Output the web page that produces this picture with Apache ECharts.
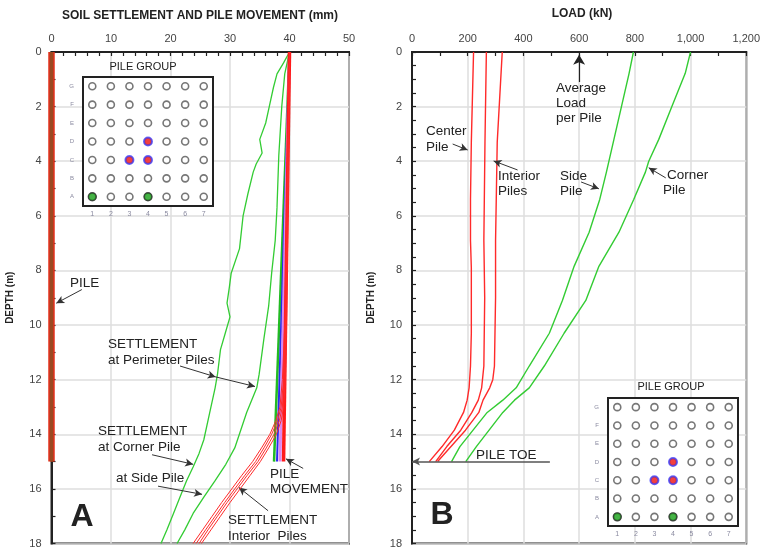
<!DOCTYPE html>
<html>
<head>
<meta charset="utf-8">
<script src="https://cdn.jsdelivr.net/npm/echarts@6/dist/echarts.min.js"></script>
<style>
  html, body { margin: 0; padding: 0; background: #fff; }
  #chart { width: 763px; height: 549px; }
</style>
</head>
<body>
<div id="chart"></div>
<script>
// ---- panel A : soil settlement / pile movement (mm) vs depth (m)
const pileDepth = [0, 15];
const pileX = [0, 0];

const moveDepth = [0, 15];
const moveRed = [40, 39.0];
const moveViolet = [40, 38.4];
const moveBlue = [40, 37.9];
const moveGreen = [40, 37.4];

const cornerDepth = [0, 0.4, 0.8, 1.3, 2.0, 2.6, 3.2, 3.7, 4.1, 4.4, 5.2, 6.0, 7.2, 8.1, 8.6, 9.2, 9.7, 10.3, 10.9, 11.8, 12.3, 13.2, 14.2, 14.7, 15.2, 15.7, 16.3, 16.9, 17.5, 18];
const cornerSettle = [40, 39.0, 37.9, 37.3, 36.6, 36.0, 35.0, 35.4, 34.4, 33.9, 33.0, 32.2, 31.6, 30.2, 29.9, 29.5, 30.0, 29.2, 28.4, 27.9, 27.5, 26.6, 25.6, 24.8, 23.8, 22.7, 21.6, 20.5, 19.4, 18.4];

const sideDepth = [0, 0.8, 2.0, 3.8, 5.7, 6.9, 8.1, 9.3, 10.5, 11.8, 12.3, 13.2, 14.5, 15.1, 15.7, 16.3, 16.9, 17.5, 18];
const sideSettle = [40, 39.2, 38.7, 38.2, 37.9, 37.6, 37.0, 36.5, 35.7, 34.9, 34.5, 32.8, 30.8, 29.3, 27.5, 25.6, 23.8, 22.4, 21.1];

const interiorDepth = [0, 5, 10, 12, 13, 13.5, 14, 14.5, 15, 15.5, 16, 16.5, 17, 17.5, 18];
const interior1 = [40, 39.6, 39.2, 38.8, 38.4, 37.7, 36.7, 35.3, 33.8, 32.0, 30.3, 28.6, 27.0, 25.4, 23.8];
const interior2 = [40, 39.7, 39.3, 39.0, 38.6, 38.0, 37.0, 35.7, 34.3, 32.5, 30.8, 29.1, 27.5, 25.9, 24.3];
const interior3 = [40, 39.7, 39.4, 39.1, 38.8, 38.3, 37.4, 36.1, 34.7, 32.9, 31.2, 29.5, 27.9, 26.3, 24.8];
const interior4 = [40, 39.8, 39.5, 39.3, 39.0, 38.6, 37.8, 36.5, 35.1, 33.4, 31.7, 30.0, 28.4, 26.8, 25.2];

// ---- panel B : load (kN) vs depth (m)
const centerDepth = [0, 3.3, 5.4, 6.9, 7.9, 10.3, 11.5, 12.3, 12.75, 13.2, 13.85, 14.45, 15];
const centerLoad = [221, 213, 210, 210, 213, 213, 210, 205, 198, 185, 152, 108, 62];
const interiorADepth = [0, 3.3, 6.9, 9, 11.5, 12.3, 12.75, 13.2, 13.85, 14.45, 15];
const interiorALoad = [267, 262, 258, 261, 258, 250, 238, 215, 175, 125, 85];
const interiorBDepth = [0, 3.3, 6.9, 9, 11.5, 12.0, 12.3, 12.75, 13.2, 13.85, 14.45, 15];
const interiorBLoad = [324, 306, 300, 300, 296, 290, 279, 255, 240, 192, 140, 92];
const sideLoadDepth = [0, 0.8, 2, 3.2, 4.4, 5.4, 6.6, 7.85, 9.1, 10.3, 11.5, 12.3, 12.75, 13.2, 14.45, 15];
const sideLoad = [795, 779, 752, 725, 698, 674, 636, 582, 540, 493, 421, 374, 326, 270, 172, 142];
const cornerLoadDepth = [0, 0.78, 2, 3.2, 4.0, 4.4, 5.4, 6.6, 7.85, 9.1, 10.3, 11.5, 12.3, 12.75, 13.2, 14.45, 15];
const cornerLoad = [1000, 981, 933, 886, 850, 838, 796, 743, 671, 624, 546, 475, 421, 368, 326, 231, 193];

// ---- pile group insets
const pileCols = ['1', '2', '3', '4', '5', '6', '7'];
const pileRows = ['A', 'B', 'C', 'D', 'E', 'F', 'G'];
const interiorPiles = [['4', 'D'], ['3', 'C'], ['4', 'C']];
const perimeterPiles = [['1', 'A'], ['4', 'A']];

// ---- annotation arrows (data coords: [x, depth])
const leftArrows = [
  [[5.1, 8.7], [0.8, 9.2]],
  [[21.6, 11.5], [27.6, 11.9]],
  [[27.6, 11.9], [34.2, 12.25]],
  [[16.9, 14.75], [23.8, 15.1]],
  [[17.9, 15.9], [25.3, 16.2]],
  [[42.3, 15.25], [39.4, 14.9]],
  [[36.4, 16.8], [31.5, 15.95]]
];
const rightArrows = [
  [[146, 3.37], [200, 3.59]],
  [[379, 4.32], [293, 3.99]],
  [[607, 4.76], [671, 5.01]],
  [[911, 4.61], [850, 4.24]]
];
const avgLoadArrow = [[600, 1.1], [600, 0.1]];
const pileToeLine = [[495, 15], [0, 15]];

const FONT = '"Liberation Sans", Arial, sans-serif';
const zip = (xs, ys) => xs.map((x, i) => [x, ys[i]]);

const allPiles = [];
pileRows.forEach(r => pileCols.forEach(c => allPiles.push([c, r])));

const chart = echarts.init(document.getElementById('chart'));

const mainX = (gi, max, interval, minorSplit, fmt) => ({
  gridIndex: gi, type: 'value', position: 'top', min: 0, max, interval,
  axisLine: { show: true, lineStyle: { color: '#222', width: 2 } },
  axisTick: { show: true, inside: true, length: 4, lineStyle: { color: '#222', width: 1.2 } },
  minorTick: { show: true, splitNumber: minorSplit, length: 4, lineStyle: { color: '#222', width: 1.2 } },
  axisLabel: { color: '#444', fontSize: 11, fontFamily: FONT, margin: 8, formatter: fmt },
  splitLine: { show: true, lineStyle: { color: '#dedede', width: 1.5 } }
});
const mainY = (gi, minorSplit) => ({
  gridIndex: gi, type: 'value', inverse: true, min: 0, max: 18, interval: 2,
  name: 'DEPTH (m)', nameLocation: 'middle', nameGap: 36,
  nameTextStyle: { color: '#222', fontSize: 10, fontWeight: 'bold', fontFamily: FONT },
  axisLine: { show: true, lineStyle: { color: '#222', width: 2 } },
  axisTick: { show: true, inside: true, length: 4, lineStyle: { color: '#222', width: 1.2 } },
  minorTick: { show: true, splitNumber: minorSplit, length: 4, lineStyle: { color: '#222', width: 1.2 } },
  axisLabel: { color: '#444', fontSize: 11, fontFamily: FONT, margin: 10 },
  splitLine: { show: true, lineStyle: { color: '#dedede', width: 1.5 } }
});
const insetX = gi => ({
  gridIndex: gi, type: 'category', data: pileCols, position: 'bottom', z: 10,
  axisLine: { show: false }, axisTick: { show: false }, splitLine: { show: false },
  axisLabel: { color: '#8a8aa0', fontSize: 7, fontFamily: FONT, margin: 5 }
});
const insetY = gi => ({
  gridIndex: gi, type: 'category', data: pileRows, z: 10,
  axisLine: { show: false }, axisTick: { show: false }, splitLine: { show: false },
  axisLabel: { color: '#8a8aa0', fontSize: 6, fontFamily: FONT, margin: 9 }
});

const line = (gi, data, color, width, z, extra) => Object.assign({
  type: 'line', xAxisIndex: gi, yAxisIndex: gi, data, symbol: 'none', smooth: false,
  clip: false, silent: true, animation: false, z: z || 3,
  lineStyle: { color, width }
}, extra || {});

const arrowMark = (list, color, width, size) => ({
  silent: true, animation: false, symbol: ['none', 'arrow'], symbolSize: size,
  label: { show: false }, emphasis: { disabled: true },
  lineStyle: { color, width, type: 'solid' },
  data: list.map(a => [{ coord: a[0] }, { coord: a[1] }])
});

const pileScatter = gi => [
  {
    type: 'scatter', xAxisIndex: gi, yAxisIndex: gi, data: allPiles, symbolSize: 7, z: 12,
    silent: true, animation: false,
    itemStyle: { color: '#fff', borderColor: '#555', borderWidth: 1.6 }
  },
  {
    type: 'scatter', xAxisIndex: gi, yAxisIndex: gi, data: interiorPiles, symbolSize: 8, z: 13,
    silent: true, animation: false,
    itemStyle: { color: '#ee1010', borderColor: '#4a4aff', borderWidth: 2 }
  },
  {
    type: 'scatter', xAxisIndex: gi, yAxisIndex: gi, data: perimeterPiles, symbolSize: 8, z: 13,
    silent: true, animation: false,
    itemStyle: { color: '#18a018', borderColor: '#333', borderWidth: 1.4 }
  }
];

const txt = (s, x, y, size, opts) => Object.assign({
  type: 'text', x, y, z: 100, silent: true,
  style: Object.assign({
    text: s, fill: '#222', font: (opts && opts.bold ? 'bold ' : '') + size + 'px ' + FONT,
    textAlign: (opts && opts.align) || 'left', textVerticalAlign: 'middle'
  })
}, {});

const labels = [
  // panel A
  ['PILE', 70, 283], ['SETTLEMENT', 108, 344], ['at Perimeter Piles', 108, 360],
  ['SETTLEMENT', 98, 431], ['at Corner Pile', 98, 447], ['at Side Pile', 116, 478],
  ['PILE', 270, 474], ['MOVEMENT', 270, 489], ['SETTLEMENT', 228, 520], ['Interior  Piles', 228, 536],
  // panel B
  ['Average', 556, 88], ['Load', 556, 103], ['per Pile', 556, 118],
  ['Center', 426, 131], ['Pile', 426, 147], ['Interior', 498, 176], ['Piles', 498, 191],
  ['Side', 560, 176], ['Pile', 560, 191], ['Corner', 667, 175], ['Pile', 663, 190],
  ['PILE TOE', 476, 455]
];

chart.setOption({
  animation: false,
  backgroundColor: '#fff',
  grid: [
    { left: 51.5, top: 52, width: 297.5, height: 492, show: true, borderColor: '#222', borderWidth: 2, backgroundColor: 'transparent' },
    { left: 412, top: 52, width: 336, height: 492, show: true, borderColor: '#222', borderWidth: 2, backgroundColor: 'transparent' },
    { left: 83, top: 77, width: 130, height: 129, show: true, borderColor: '#222', borderWidth: 2, backgroundColor: '#fff', z: 8 },
    { left: 608, top: 398, width: 130, height: 128, show: true, borderColor: '#222', borderWidth: 2, backgroundColor: '#fff', z: 8 }
  ],
  xAxis: [
    mainX(0, 50, 10, 5),
    mainX(1, 1200, 200, 2, v => v.toLocaleString('en-US')),
    insetX(2), insetX(3)
  ],
  yAxis: [mainY(0, 2), mainY(1, 4), insetY(2), insetY(3)],
  series: [
    // panel A
    line(0, zip(pileX, pileDepth), '#e4301c', 6.5, 4),
    line(0, zip(pileX, pileDepth), '#9a4a22', 3.5, 5, { markLine: arrowMark(leftArrows, '#333', 1, [6, 8]) }),
    line(0, zip(cornerSettle, cornerDepth), '#33cc33', 1.3),
    line(0, zip(sideSettle, sideDepth), '#33cc33', 1.3),
    line(0, zip(moveGreen, moveDepth), '#22bb22', 2.5, 4),
    line(0, zip(moveBlue, moveDepth), '#2a2aee', 2, 4),
    line(0, zip(moveViolet, moveDepth), '#dd88ee', 3, 4),
    line(0, zip(moveRed, moveDepth), '#ff1a1a', 3.5, 4),
    line(0, zip(interior1, interiorDepth), '#ff2a2a', 1, 5),
    line(0, zip(interior2, interiorDepth), '#ff2a2a', 1, 5),
    line(0, zip(interior3, interiorDepth), '#ff2a2a', 1, 5),
    line(0, zip(interior4, interiorDepth), '#ff2a2a', 1, 5),
    // panel B
    line(1, zip(centerLoad, centerDepth), '#ff2a2a', 1.4, 3, { markLine: arrowMark(rightArrows, '#333', 1, [6, 8]) }),
    line(1, zip(interiorALoad, interiorADepth), '#ff2a2a', 1.4, 3, { markLine: arrowMark([avgLoadArrow], '#222', 1.2, [9, 10]) }),
    line(1, zip(interiorBLoad, interiorBDepth), '#ff2a2a', 1.4, 3, { markLine: arrowMark([pileToeLine], '#555', 1.6, [6, 8]) }),
    line(1, zip(sideLoad, sideLoadDepth), '#33cc33', 1.4),
    line(1, zip(cornerLoad, cornerLoadDepth), '#33cc33', 1.4),
    // insets
    ...pileScatter(2),
    ...pileScatter(3)
  ],
  graphic: [
    txt('SOIL SETTLEMENT AND PILE MOVEMENT (mm)', 200, 16, 12, { bold: true, align: 'center' }),
    txt('LOAD (kN)', 582, 14, 12, { bold: true, align: 'center' }),
    txt('PILE GROUP', 143, 67, 11, { align: 'center' }),
    txt('PILE GROUP', 671, 387, 11, { align: 'center' }),
    txt('A', 82, 517, 32, { bold: true, align: 'center' }),
    txt('B', 442, 515, 32, { bold: true, align: 'center' }),
    ...labels.map(l => txt(l[0], l[1], l[2], 13.5))
  ]
});
</script>
</body>
</html>
